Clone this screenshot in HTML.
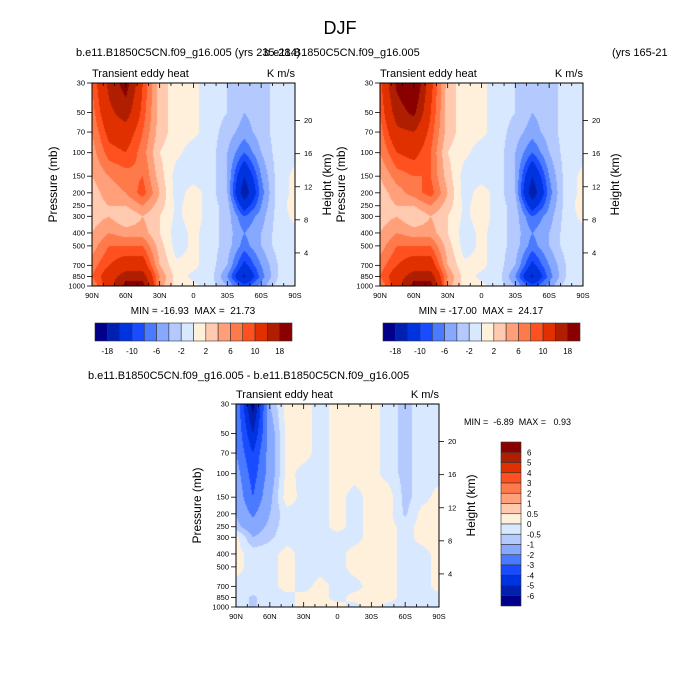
<!DOCTYPE html>
<html><head><meta charset="utf-8"><style>
body{margin:0;background:#fff;width:680px;height:693px;overflow:hidden;font-family:"Liberation Sans",sans-serif}
#c{position:absolute;left:0;top:0}
svg{position:absolute;left:0;top:0}
text{font-family:"Liberation Sans",sans-serif;fill:#000;white-space:pre}
</style></head><body>
<canvas id="c" width="680" height="693"></canvas>
<svg id="s" width="680" height="693"></svg>
<script>
const lats=[90,75,60,45,30,15,0,-15,-30,-45,-60,-75,-90];
const levels=[30,50,70,100,150,200,250,300,400,500,700,850,1000];
const P1=[
[8,15,20,10,3,1,0.5,-1,-2,-3,-3,-1,-1],
[7,13,16,9,3,1,0.5,-1,-2,-4,-3,-1,-1],
[6,11,12,8,3,1,0.5,-1,-3,-5,-3,-1,-1],
[5,9,10,7,2,0.5,-1,-1,-4,-8,-4,-1,-0.5],
[4,6,7,8,3,-1,-1,-1,-4,-14,-6,-1,0.5],
[3,5,6,9,4,-1,1,-1,-4,-17,-7,-1,0.5],
[3,4,4,6,3,-0.5,1,-1,-3,-12,-6,-1,1],
[3,4,2,4,2,-0.5,1,-1,-3,-8,-5,-1,0.5],
[4,6,5,5,2,-1,0.5,-1,-3,-6,-4,-1,-0.5],
[5,8,8,8,3,-1,0.5,-1,-3,-7,-4,-1,-0.5],
[7,10,12,12,4,0.5,0.5,-1,-4,-11,-6,-2,-0.5],
[8,12,16,16,6,1,-0.5,-1,-6,-15,-7,-2,-0.5],
[6,12,20,20,5,1,0.5,-1,-4,-9,-5,-1,-0.5]];
const P2=[
[9,19,23,11,3,1,0.5,-1,-2,-3,-3,-1,-1],
[8,16,19,10,3,1,0.5,-1,-2,-4,-3,-1,-1],
[7,13,14,9,3,1,0.5,-1,-3,-5,-3,-1,-1],
[6,10,11,8,2,0.5,-1,-1,-4,-8,-4,-1,-0.5],
[4,7,8,8,3,-1,-1,-1,-4,-14,-6,-1,0.5],
[3,5,7,9,4,-1,1,-1,-4,-17,-7,-1,0.5],
[3,4,4,6,3,-0.5,1,-1,-3,-12,-6,-1,1],
[3,4,2,4,2,-0.5,1,-1,-3,-8,-5,-1,0.5],
[4,6,5,5,2,-1,0.5,-1,-3,-6,-4,-1,-0.5],
[5,8,8,8,3,-1,0.5,-1,-3,-7,-4,-1,-0.5],
[7,10,12,12,4,0.5,0.5,-1,-4,-11,-6,-2,-0.5],
[8,12,16,16,6,1,-0.5,-1,-6,-15,-7,-2,-0.5],
[6,12,20,20,5,1,0.5,-1,-4,-9,-5,-1,-0.5]];
const P3=[
[-2,-6.5,-1,0.2,0.2,-0.2,0.2,0.2,0.2,-0.2,-0.7,-0.2,-0.2],
[-2,-5,-1.5,0.2,0.2,-0.2,0.2,0.2,0.2,-0.2,-0.7,-0.2,-0.2],
[-2,-4,-1.5,0.2,0.2,-0.2,0.2,0.2,0.2,-0.2,-0.7,-0.2,-0.2],
[-1.5,-3.5,-1.5,0.2,-0.2,-0.2,0.2,0.2,0.2,-0.2,-0.7,-0.2,-0.2],
[-1.2,-3,-1.2,0.3,-0.2,-0.2,0.2,-0.2,0.2,0.3,-0.7,-0.2,0.2],
[-1,-2.2,-1,-0.2,-0.2,-0.2,0.2,-0.2,0.2,0.2,-0.6,0.2,0.2],
[-0.8,-1.5,-0.8,-0.2,-0.2,-0.2,0.2,-0.2,0.2,0.2,-0.2,0.2,0.2],
[0.2,-1,-0.6,-0.2,-0.2,-0.2,-0.2,-0.2,0.2,0.2,-0.2,0.2,0.2],
[0.2,-0.2,-0.2,0.2,-0.2,-0.2,-0.2,0.2,0.2,0.2,-0.2,-0.2,0.2],
[0.2,-0.2,-0.2,0.2,-0.2,-0.2,-0.2,0.2,0.2,0.2,-0.2,-0.2,0.2],
[-0.2,-0.2,-0.2,0.2,-0.2,0.2,-0.2,-0.2,0.2,0.2,-0.2,-0.2,0.2],
[-0.2,-0.6,-0.2,-0.2,0.2,0.2,-0.2,0.2,0.2,0.2,-0.2,-0.2,-0.2],
[-0.2,-0.6,-0.2,-0.2,0.2,0.2,0.2,-0.2,0.2,-0.2,-0.2,-0.2,-0.2]];
const cnA=[-18,-14,-10,-8,-6,-4,-2,0,2,4,6,8,10,14,18];
const cnB=[-6,-5,-4,-3,-2,-1,-0.5,0,0.5,1,2,3,4,5,6];
const labA=["-18","-10","-6","-2","2","6","10","18"];
const labB=["6","5","4","3","2","1","0.5","0","-0.5","-1","-2","-3","-4","-5","-6"];
const latTicks=["90N","60N","30N","0","30S","60S","90S"];
const kmTicks=[4,8,12,16,20];
const cols=["#00008a","#0020b0","#0033e0","#1a4cff","#4a7aff","#86a8ff","#b4caff","#d8e8ff","#fff0dc","#ffcab0","#ffa07a","#ff7a4a","#ff5020","#e03000","#b01e00","#8a0000"];
const W=203,H=203,LP0=Math.log(30),LP1=Math.log(1000);
const NS="http://www.w3.org/2000/svg",S=document.getElementById('s');
function el(t,a,txt){const e=document.createElementNS(NS,t);for(const k in a)e.setAttribute(k,a[k]);if(txt!==undefined)e.textContent=txt;S.appendChild(e);return e;}
function yP(p,y0){return y0+(Math.log(p)-LP0)/(LP1-LP0)*H;}
function xL(l,x0){return x0+(90-l)/180*W;}
function colOf(v,cn){let i=0;while(i<cn.length&&v>=cn[i])i++;return cols[i];}
const ctx=document.getElementById('c').getContext('2d');
function field(D,x0,y0,cn){
 const ll=levels.map(Math.log);
 for(let py=0;py<H;py++){
  const lp=LP0+(py+0.5)/H*(LP1-LP0);
  let j=0;while(j<ll.length-2&&lp>ll[j+1])j++;
  const ty=Math.min(1,Math.max(0,(lp-ll[j])/(ll[j+1]-ll[j])));
  for(let px=0;px<W;px++){
   const la=90-(px+0.5)/W*180;
   let i=0;while(i<lats.length-2&&la<lats[i+1])i++;
   const tx=Math.min(1,Math.max(0,(lats[i]-la)/(lats[i]-lats[i+1])));
   const v=(D[j][i]*(1-tx)+D[j][i+1]*tx)*(1-ty)+(D[j+1][i]*(1-tx)+D[j+1][i+1]*tx)*ty;
   ctx.fillStyle=colOf(v,cn);ctx.fillRect(x0+px,y0+py,1,1);
  }
 }
}
function axes(x0,y0,name){
 el('rect',{x:x0,y:y0,width:W,height:H,fill:'none',stroke:'#000','stroke-width':1,});
 for(let l=90;l>=-90;l-=10){const x=xL(l,x0);const mj=l%30===0;
  el('line',{x1:x,x2:x,y1:y0,y2:y0+(mj?5:3),stroke:'#000','stroke-width':0.8});
  el('line',{x1:x,x2:x,y1:y0+H,y2:y0+H-(mj?5:3),stroke:'#000','stroke-width':0.8});}
 latTicks.forEach((t,k)=>{const x=xL(90-k*30,x0);
  el('text',{x:x,y:y0+H+12,'font-size':7.5,'text-anchor':'middle',},t);});
 levels.forEach(p=>{const y=yP(p,y0);
  el('line',{x1:x0-5,x2:x0,y1:y,y2:y,stroke:'#000','stroke-width':0.8});
  el('text',{x:x0-7,y:y+2.5,'font-size':7.5,'text-anchor':'end',},p);});
 kmTicks.forEach(k=>{const p=1000*Math.exp(-k/7);const y=yP(p,y0);
  el('line',{x1:x0+W,x2:x0+W+5,y1:y,y2:y,stroke:'#000','stroke-width':0.8});
  el('text',{x:x0+W+9,y:y+2.5,'font-size':7.5,},k);});
 el('text',{x:x0,y:y0-6,'font-size':11,},'Transient eddy heat');
 el('text',{x:x0+W,y:y0-6,'font-size':11,'text-anchor':'end',},'K m/s');
 el('text',{transform:`translate(${x0-35},${y0+H/2}) rotate(-90)`,'font-size':12,'text-anchor':'middle',},'Pressure (mb)');
 el('text',{transform:`translate(${x0+W+36},${y0+H/2}) rotate(-90)`,'font-size':12,'text-anchor':'middle',},'Height (km)');
}
function hbar(x0,y0,name){const bw=197/16;
 cols.forEach((c,i)=>el('rect',{x:x0+i*bw,y:y0,width:bw,height:18,fill:c,stroke:'#333','stroke-width':0.6,}));
 labA.forEach((t,k)=>el('text',{x:x0+(1+2*k)*bw,y:y0+31,'font-size':8,'text-anchor':'middle',},t));
}
field(P1,92,83,cnA);field(P2,380,83,cnA);field(P3,236,404,cnB);
axes(92,83,'panel1');axes(380,83,'panel2');axes(236,404,'panel3');
hbar(95,323,'panel1');hbar(383,323,'panel2');
const vb=164/16;
cols.slice().reverse().forEach((c,i)=>el('rect',{x:501,y:442+i*vb,width:20,height:vb,fill:c,stroke:'#333','stroke-width':0.6,}));
labB.forEach((t,k)=>el('text',{x:527,y:442+(k+1)*vb+3,'font-size':8,},t));
el('text',{x:340,y:34,'font-size':18,'text-anchor':'middle',},'DJF');
el('text',{x:76,y:56,'font-size':11,},'b.e11.B1850C5CN.f09_g16.005 (yrs 235-284)');
el('text',{x:264,y:56,'font-size':11,},'b.e11.B1850C5CN.f09_g16.005');
el('text',{x:612,y:56,'font-size':11,},'(yrs 165-21');
el('text',{x:88,y:379,'font-size':11,},'b.e11.B1850C5CN.f09_g16.005 - b.e11.B1850C5CN.f09_g16.005');
el('text',{x:193,y:314,'font-size':10,'text-anchor':'middle',},'MIN = -16.93  MAX =  21.73');
el('text',{x:481,y:314,'font-size':10,'text-anchor':'middle',},'MIN = -17.00  MAX =  24.17');
el('text',{x:464,y:425,'font-size':9,},'MIN =  -6.89  MAX =   0.93');
</script>
</body></html>
